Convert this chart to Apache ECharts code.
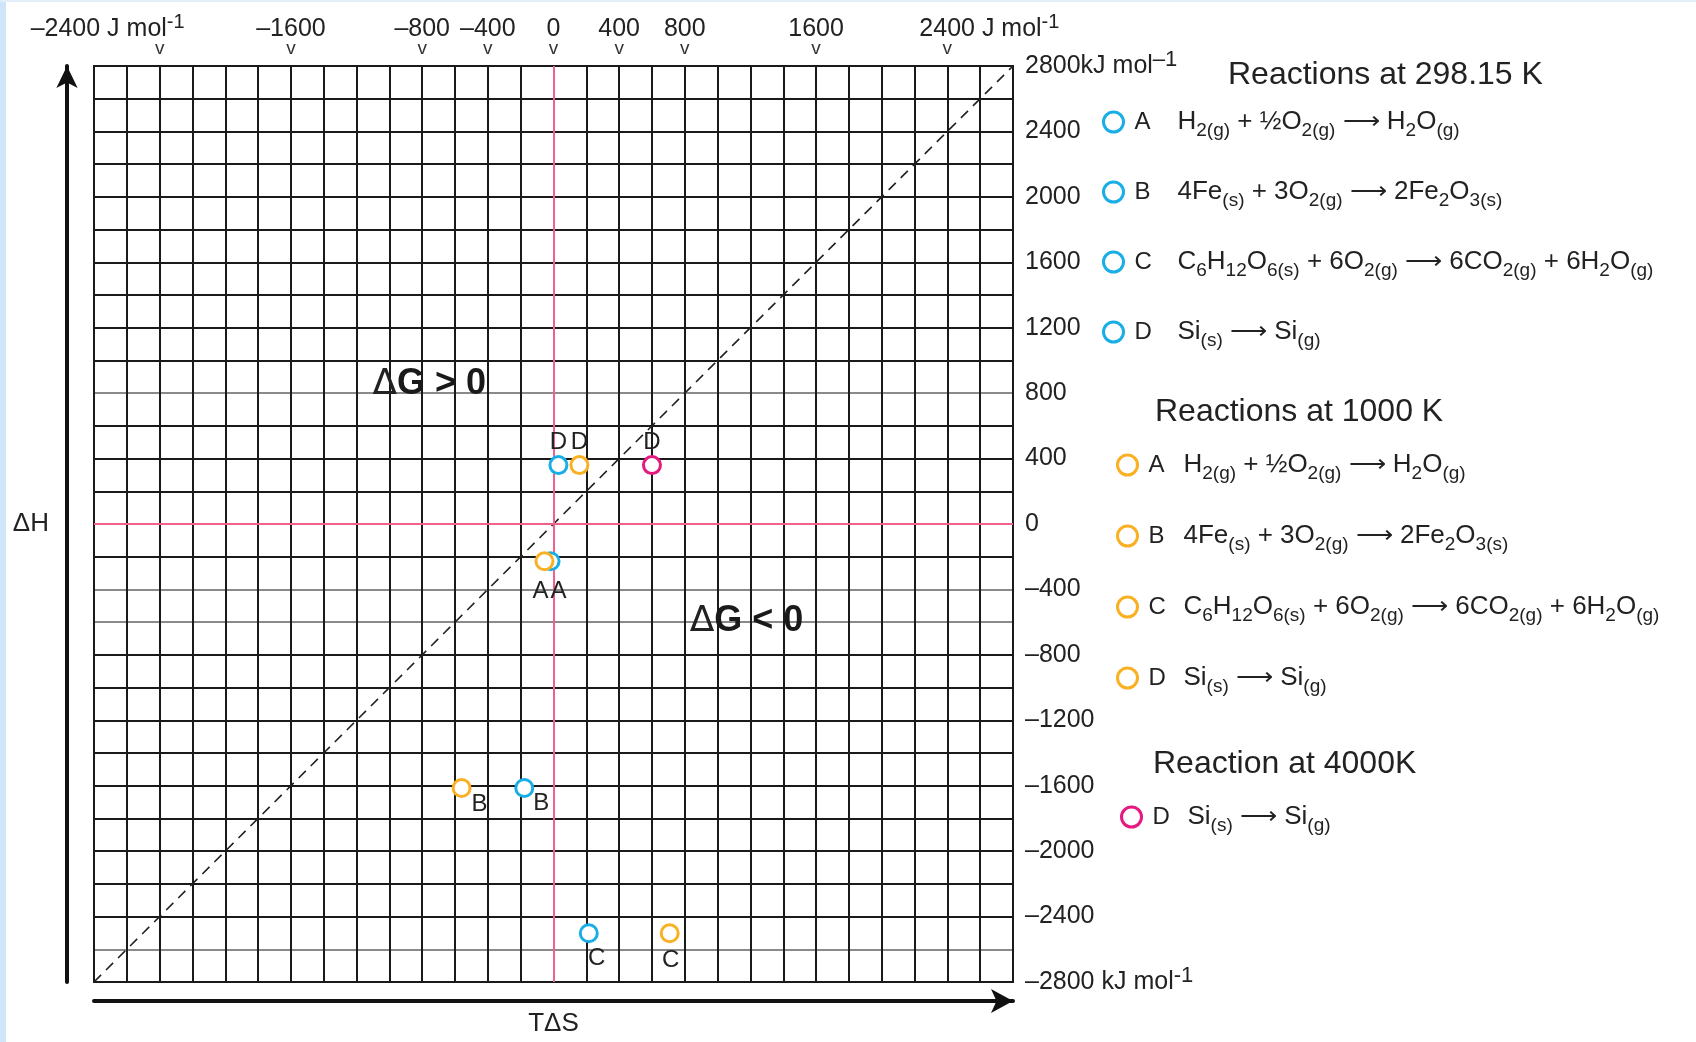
<!DOCTYPE html>
<html><head><meta charset="utf-8">
<script src="https://cdn.jsdelivr.net/npm/echarts@6/dist/echarts.min.js"></script>
<style>html,body{margin:0;padding:0;background:#fff;width:1696px;height:1042px;overflow:hidden}#c{width:1696px;height:1042px}</style>
</head><body><div id="c"></div>
<script>
// ---------- data ----------
const reactionKeys = ['A', 'B', 'C', 'D'];
const tds298 = [-18, -178, 215, 30];        // TΔS at 298.15 K
const dh298 = [-228, -1614, -2502, 360];    // ΔH
const tds1000 = [-55, -560, 708, 158];      // TΔS at 1000 K
const dh1000 = [-228, -1614, -2502, 360];
const keys4000 = ['D'];
const tds4000 = [600];                      // TΔS at 4000 K
const dh4000 = [360];
const diagonal = [[-2800, -2800], [2800, 2800]];
const regionNotes = ['ΔG > 0', 'ΔG < 0'];
const regionNoteAt = [[-757, 855], [1176, -596]];
const topTickValues = [-2400, -1600, -800, -400, 0, 400, 800, 1600, 2400];
const rightTickValues = [2800, 2400, 2000, 1600, 1200, 800, 400, 0, -400, -800, -1200, -1600, -2000, -2400, -2800];
const groupTitles = ['Reactions at 298.15 K', 'Reactions at 1000 K', 'Reaction at 4000K'];
const formulas = {
  A: 'H{s|2(g)} + ½O{s|2(g)} ⟶ H{s|2}O{s|(g)}',
  B: '4Fe{s|(s)} + 3O{s|2(g)} ⟶ 2Fe{s|2}O{s|3(s)}',
  C: 'C{s|6}H{s|12}O{s|6(s)} + 6O{s|2(g)} ⟶ 6CO{s|2(g)} + 6H{s|2}O{s|(g)}',
  D: 'Si{s|(s)} ⟶ Si{s|(g)}'
};

// ---------- styles ----------
const FONT = "'Liberation Sans', Arial, Helvetica, sans-serif";
const INK = '#222';
const colors = { '298': '#1aaee6', '1000': '#f9b023', '4000': '#e5197f' };
const PINK = '#f0618c';
const labelOffsets = {
  '298': { A: [8, 30], B: [17, 15], C: [8, 25], D: [0, -23] },
  '1000': { A: [-4, 30], B: [18, 16], C: [1, 27], D: [0, -23] },
  '4000': { D: [0, -23] }
};
const hGridColors = [];
for (let i = 0; i <= 28; i++) hGridColors.push([1, 11, 12, 18].includes(i) ? '#8a8a8a' : '#1a1a1a');

function enDash(v) { return v < 0 ? '\u2013' + Math.abs(v) : String(v); }

function makeSeries(temp, keys, xs, ys) {
  return keys.map((k, i) => ({
    name: temp + ' ' + k,
    type: 'scatter',
    xAxisIndex: 0, yAxisIndex: 0,
    symbol: 'circle',
    symbolSize: 17,
    z: 5,
    itemStyle: { color: '#fff', borderColor: colors[temp], borderWidth: 3, opacity: 1 },
    label: {
      show: true, position: 'inside', offset: labelOffsets[temp][k],
      formatter: k, fontSize: 24, color: INK, fontFamily: FONT
    },
    data: [[xs[i], ys[i]]]
  }));
}

const series = [
  {
    type: 'line', data: diagonal, symbol: 'none', silent: true, z: 2,
    lineStyle: { color: '#222', width: 1.6, type: [10, 7] },
    markLine: {
      silent: true, symbol: 'none', label: { show: false },
      lineStyle: { color: PINK, width: 2, type: 'solid' },
      data: [{ xAxis: 0 }, { yAxis: 0 }]
    }
  },
  {
    type: 'scatter', symbolSize: 0, silent: true, z: 6,
    itemStyle: { opacity: 1 },
    data: regionNotes.map((t, i) => ({ name: t, value: regionNoteAt[i] })),
    label: {
      show: true, position: 'inside', color: INK, opacity: 1,
      formatter: p => '{d|Δ}{g|' + p.name.slice(1) + '}',
      rich: {
        d: { fontSize: 36, fontFamily: "'DejaVu Sans', sans-serif", color: INK, fontWeight: 'normal', opacity: 1 },
        g: { fontSize: 36, fontFamily: FONT, color: '#1a1a1a', fontWeight: 'bold', opacity: 1 }
      }
    }
  },
  ...makeSeries('298', reactionKeys, tds298, dh298),
  ...makeSeries('1000', reactionKeys, tds1000, dh1000),
  ...makeSeries('4000', keys4000, tds4000, dh4000)
];

function legendCfg(temp, keys, left, top, gap, letterW) {
  const rich = {
    l: { fontSize: 24, fontFamily: FONT, color: INK, width: letterW, lineHeight: 36, padding: [0, 0, 0, 6] },
    s: { fontSize: 19, fontFamily: FONT, color: INK, lineHeight: 19, verticalAlign: 'bottom' }
  };
  return {
    data: keys.map(k => temp + ' ' + k),
    orient: 'vertical', left: left, top: top, itemGap: gap,
    itemWidth: 20, itemHeight: 20, icon: 'circle', selectedMode: false,
    padding: 0,
    itemStyle: { color: '#fff', borderColor: 'inherit', borderWidth: 3 },
    formatter: name => { const k = name.split(' ')[1]; return '{l|' + k + '}' + formulas[k]; },
    textStyle: { fontSize: 26, fontFamily: FONT, color: INK, lineHeight: 36, rich: rich }
  };
}

const titleStyle = { fontSize: 32, fontWeight: 'normal', color: INK, fontFamily: FONT, lineHeight: 36 };

const option = {
  animation: false,
  backgroundColor: '#fff',
  textStyle: { fontFamily: FONT },
  grid: { left: 94, top: 66, width: 919, height: 920, show: true, borderColor: '#1a1a1a', borderWidth: 2, containLabel: false },
  title: [
    { text: groupTitles[0], left: 1228, top: 57, padding: 0, textStyle: titleStyle },
    { text: groupTitles[1], left: 1155, top: 394, padding: 0, textStyle: titleStyle },
    { text: groupTitles[2], left: 1153, top: 746, padding: 0, textStyle: titleStyle }
  ],
  legend: [
    legendCfg('298', reactionKeys, 1102, 104, 34, 43),
    legendCfg('1000', reactionKeys, 1116, 447, 35, 35),
    legendCfg('4000', keys4000, 1120, 799, 34, 35)
  ],
  xAxis: [
    {
      type: 'value', min: -2800, max: 2800, interval: 200, position: 'bottom',
      axisLine: { show: false }, axisTick: { show: false }, axisLabel: { show: false },
      splitLine: { show: true, lineStyle: { color: '#1a1a1a', width: 2 } }
    },
    {
      type: 'value', min: -2800, max: 2800, interval: 400, position: 'top',
      axisLine: { show: false, onZero: false }, axisTick: { show: false }, splitLine: { show: false },
      axisLabel: {
        show: true, margin: 8, fontSize: 19, color: '#333', fontFamily: FONT,
        showMinLabel: true, showMaxLabel: true,
        formatter: v => topTickValues.includes(v) ? 'v' : ''
      }
    },
    {
      type: 'value', min: -2800, max: 2800, interval: 400, position: 'top',
      axisLine: { show: false, onZero: false }, axisTick: { show: false }, splitLine: { show: false },
      axisLabel: {
        show: true, margin: 20, fontSize: 25, color: INK, fontFamily: FONT, lineHeight: 34,
        showMinLabel: true, showMaxLabel: true,
        formatter: v => {
          if (!topTickValues.includes(v)) return '';
          if (v === topTickValues[0]) return enDash(v) + ' J mol{supL|-1}';
          if (v === topTickValues[topTickValues.length - 1]) return '{nr|' + enDash(v) + '} J mol{sup|-1}';
          return enDash(v);
        },
        rich: {
          sup: { fontSize: 20, fontFamily: FONT, color: INK, lineHeight: 20, verticalAlign: 'top' },
          supL: { fontSize: 20, fontFamily: FONT, color: INK, lineHeight: 20, verticalAlign: 'top', padding: [0, 104, 0, 0] },
          nr: { fontSize: 25, fontFamily: FONT, color: INK, lineHeight: 34, padding: [0, 0, 0, 84] }
        }
      }
    },
    {
      type: 'value', min: -2800, max: 2800, position: 'bottom', offset: 19,
      name: 'TΔS', nameLocation: 'middle', nameGap: 10,
      nameTextStyle: { fontSize: 26, color: INK, fontFamily: FONT },
      axisLine: { show: true, onZero: false, symbol: ['none', 'arrow'], symbolSize: [18, 22], lineStyle: { color: '#111', width: 4 } },
      axisTick: { show: false }, axisLabel: { show: false }, splitLine: { show: false }
    }
  ],
  yAxis: [
    {
      type: 'value', min: -2800, max: 2800, interval: 200, position: 'right',
      axisLine: { show: false, onZero: false }, axisTick: { show: false },
      splitLine: { show: true, lineStyle: { color: hGridColors, width: 2 } },
      axisLabel: {
        show: true, margin: 12, fontSize: 25, color: INK, fontFamily: FONT, lineHeight: 34,
        showMinLabel: true, showMaxLabel: true,
        formatter: v => {
          if (!rightTickValues.includes(v)) return '';
          if (v === rightTickValues[0]) return enDash(v) + '{u|kJ mol}{sup|\u20131}';
          if (v === rightTickValues[rightTickValues.length - 1]) return enDash(v) + ' kJ mol{sup|-1}';
          return enDash(v);
        },
        rich: {
          u: { fontSize: 25, fontFamily: FONT, color: INK, lineHeight: 34 },
          sup: { fontSize: 22, fontFamily: FONT, color: INK, lineHeight: 22, verticalAlign: 'top' }
        }
      }
    },
    {
      type: 'value', min: -2800, max: 2800, position: 'left', offset: 27,
      name: 'ΔH', nameLocation: 'middle', nameGap: 18, nameRotate: 0,
      nameTextStyle: { fontSize: 26, color: INK, fontFamily: FONT },
      axisLine: { show: true, onZero: false, symbol: ['none', 'arrow'], symbolSize: [16, 22], lineStyle: { color: '#111', width: 4 } },
      axisTick: { show: false }, axisLabel: { show: false }, splitLine: { show: false }
    }
  ],
  graphic: [
    { type: 'rect', left: 0, top: 0, shape: { width: 6, height: 1042 }, style: { fill: '#cfe5fa' }, silent: true },
    { type: 'rect', left: 0, top: 0, shape: { width: 1696, height: 2 }, style: { fill: '#e2effb' }, silent: true }
  ],
  series: series
};

const chart = echarts.init(document.getElementById('c'), null, { renderer: 'canvas', width: 1696, height: 1042 });
chart.setOption(option);
</script>
</body></html>
